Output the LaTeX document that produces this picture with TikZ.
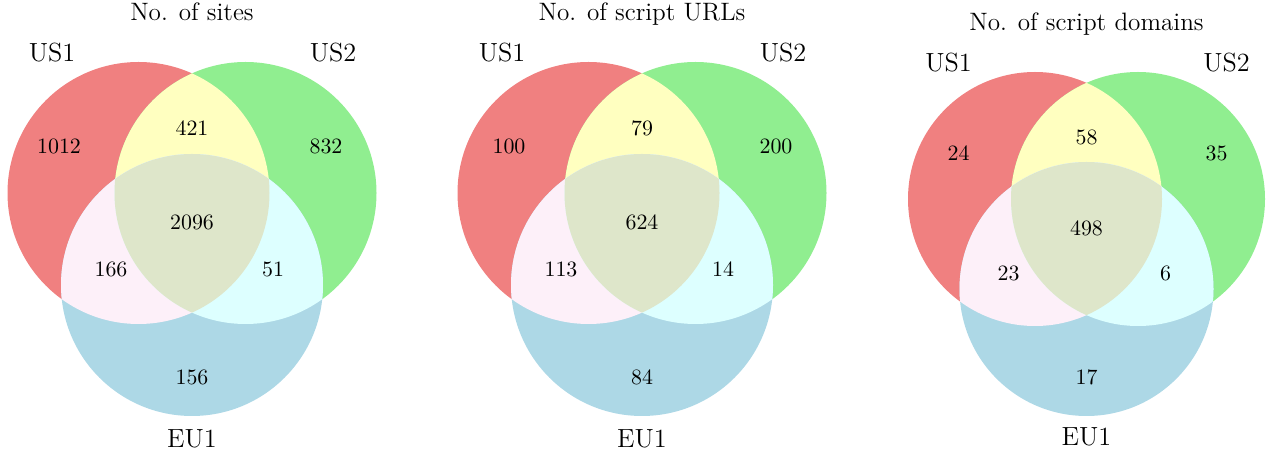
\documentclass[tikz,border=0pt]{standalone}
\usepackage{tikz}

\definecolor{usone}{RGB}{240,128,128}
\definecolor{ustwo}{RGB}{144,238,144}
\definecolor{euone}{RGB}{173,216,230}
\definecolor{usboth}{RGB}{255,255,192}
\definecolor{usoneeu}{RGB}{253,240,249}
\definecolor{ustwoeu}{RGB}{221,255,255}
\definecolor{allthree}{RGB}{222,230,202}

\begin{document}
\begin{tikzpicture}[
  x=0.457pt, y=-0.457pt,
  num/.style={font=\normalsize, inner sep=0pt},
  setlbl/.style={font=\large, inner sep=0pt},
  ttl/.style={font=\fontsize{11.5}{14}\selectfont, inner sep=0pt, anchor=base}
]
\useasboundingbox (0,0) rectangle (1271,454);

% No. of sites
\begin{scope}[shift={(192,0)}]
  \coordinate (sA) at (-53.5,193);
  \coordinate (sB) at (53.5,193);
  \coordinate (sC) at (0,285);
  \fill[usone] (sA) circle (131);
  \fill[ustwo] (sB) circle (131);
  \fill[euone] (sC) circle (131);
  \begin{scope} \clip (sA) circle (131); \fill[usboth] (sB) circle (131); \end{scope}
  \begin{scope} \clip (sA) circle (131); \fill[usoneeu] (sC) circle (131); \end{scope}
  \begin{scope} \clip (sB) circle (131); \fill[ustwoeu] (sC) circle (131); \end{scope}
  \begin{scope} \clip (sA) circle (131); \clip (sB) circle (131); \fill[allthree] (sC) circle (131); \end{scope}
  \node[ttl] (sTitle) at (0,21) {No. of sites};
  \node[setlbl] (sUSa) at (-140,53) {US1};
  \node[setlbl] (sUSb) at (141,53) {US2};
  \node[setlbl] (sEU) at (0,439) {EU1};
  \node[num] (sOnlyA) at (-133,146) {1012};
  \node[num] (sOnlyB) at (134,146) {832};
  \node[num] (sAB) at (0,128) {421};
  \node[num] (sABC) at (0,222) {2096};
  \node[num] (sAC) at (-81,269) {166};
  \node[num] (sBC) at (81,269) {51};
  \node[num] (sOnlyC) at (0,377) {156};
\end{scope}

% No. of script URLs
\begin{scope}[shift={(642,0)}]
  \coordinate (uA) at (-53.5,193);
  \coordinate (uB) at (53.5,193);
  \coordinate (uC) at (0,285);
  \fill[usone] (uA) circle (131);
  \fill[ustwo] (uB) circle (131);
  \fill[euone] (uC) circle (131);
  \begin{scope} \clip (uA) circle (131); \fill[usboth] (uB) circle (131); \end{scope}
  \begin{scope} \clip (uA) circle (131); \fill[usoneeu] (uC) circle (131); \end{scope}
  \begin{scope} \clip (uB) circle (131); \fill[ustwoeu] (uC) circle (131); \end{scope}
  \begin{scope} \clip (uA) circle (131); \clip (uB) circle (131); \fill[allthree] (uC) circle (131); \end{scope}
  \node[ttl] (uTitle) at (0,21) {No. of script URLs};
  \node[setlbl] (uUSa) at (-140,53) {US1};
  \node[setlbl] (uUSb) at (141,53) {US2};
  \node[setlbl] (uEU) at (0,439) {EU1};
  \node[num] (uOnlyA) at (-133,146) {100};
  \node[num] (uOnlyB) at (134,146) {200};
  \node[num] (uAB) at (0,128) {79};
  \node[num] (uABC) at (0,222) {624};
  \node[num] (uAC) at (-81,269) {113};
  \node[num] (uBC) at (81,269) {14};
  \node[num] (uOnlyC) at (0,377) {84};
\end{scope}

% No. of script domains
\begin{scope}[shift={(1086.5,0)}]
  \coordinate (dA) at (-51.5,199);
  \coordinate (dB) at (51.5,199);
  \coordinate (dC) at (0,289);
  \fill[usone] (dA) circle (127);
  \fill[ustwo] (dB) circle (127);
  \fill[euone] (dC) circle (127);
  \begin{scope} \clip (dA) circle (127); \fill[usboth] (dB) circle (127); \end{scope}
  \begin{scope} \clip (dA) circle (127); \fill[usoneeu] (dC) circle (127); \end{scope}
  \begin{scope} \clip (dB) circle (127); \fill[ustwoeu] (dC) circle (127); \end{scope}
  \begin{scope} \clip (dA) circle (127); \clip (dB) circle (127); \fill[allthree] (dC) circle (127); \end{scope}
  \node[ttl] (dTitle) at (0,31) {No. of script domains};
  \node[setlbl] (dUSa) at (-138,63) {US1};
  \node[setlbl] (dUSb) at (140,63) {US2};
  \node[setlbl] (dEU) at (0,437) {EU1};
  \node[num] (dOnlyA) at (-128,153) {24};
  \node[num] (dOnlyB) at (130,153) {35};
  \node[num] (dAB) at (0,137) {58};
  \node[num] (dABC) at (0,228) {498};
  \node[num] (dAC) at (-78,273) {23};
  \node[num] (dBC) at (79,273) {6};
  \node[num] (dOnlyC) at (0,377) {17};
\end{scope}
\end{tikzpicture}
\end{document}
